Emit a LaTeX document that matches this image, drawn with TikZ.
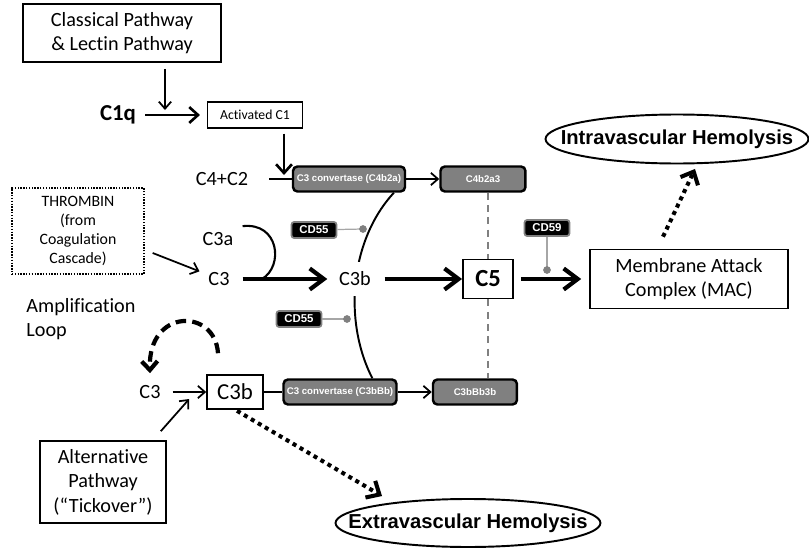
\documentclass[tikz,border=0pt]{standalone}
\usepackage{fontspec}
\setmainfont{Carlito}[Ligatures=NoCommon]
\newfontfamily\arialfont{Liberation Sans}
\usetikzlibrary{shapes.geometric, arrows.meta, positioning}
\definecolor{midgray}{RGB}{128,128,128}
\tikzstyle{pathbox} = [rectangle, draw=black, line width=0.9pt, align=center, font=\fontsize{11.5}{14}\selectfont]
\tikzstyle{smallbox} = [rectangle, draw=black, line width=0.6pt, minimum width=1.9cm, minimum height=0.52cm, font=\fontsize{7.8}{9}\selectfont]
\tikzstyle{enzyme} = [rectangle, rounded corners=2.5pt, draw=black, line width=1.4pt, fill=midgray, text=white, minimum height=0.5cm, inner sep=1pt, font=\arialfont\bfseries\fontsize{5.5}{6}\selectfont]
\tikzstyle{inhibitor} = [rectangle, rounded corners=1.5pt, draw=gray, line width=1pt, fill=black, text=white, minimum width=0.9cm, minimum height=0.32cm, inner sep=0pt, font=\arialfont\bfseries\fontsize{6.5}{7}\selectfont]
\tikzstyle{outcome} = [ellipse, draw=black, line width=1.1pt, inner sep=0pt, minimum width=5.26cm, minimum height=0.98cm, font=\arialfont\bfseries\fontsize{11.5}{14}\selectfont]
\tikzstyle{molecule} = [font=\fontsize{11.5}{14}\selectfont]
\tikzstyle{thinarrow} = [line width=1pt, -{Straight Barb[length=4pt,width=7pt]}]
\tikzstyle{medarrow} = [line width=1.5pt, -{Straight Barb[length=5pt,width=9pt]}]
\tikzstyle{bigarrow} = [line width=2.4pt, -{Straight Barb[length=8pt,width=12pt]}]
\tikzstyle{dotarrow} = [line width=2.3pt, dash pattern=on 2.3pt off 2.3pt, -{Straight Barb[length=6pt,width=11pt]}]
\tikzstyle{loopline} = [line width=2.4pt, dash pattern=on 6pt off 3.5pt, -{Straight Barb[length=5pt,width=9pt]}]
\tikzstyle{blocker} = [gray!70, line width=0.7pt]
\tikzstyle{thruline} = [gray, line width=0.8pt, dash pattern=on 4pt off 3pt]

\begin{document}
\begin{tikzpicture}[x=0.02cm, y=-0.02cm, node distance=2cm]
\useasboundingbox (0,0) rectangle (809,551);

% Nodos de entrada
\node (classical) [pathbox, minimum width=3.96cm, minimum height=1.16cm] at (122,33) {Classical Pathway\\\& Lectin Pathway};
\node (c1q) [molecule, font=\bfseries\fontsize{13}{15}\selectfont] at (118,115) {C1q};
\node (actc1) [smallbox] at (255,115) {Activated C1};
\coordinate (hitc1) at (165,115);
\node (thrombin) [pathbox, dash pattern=on 0.8pt off 0.8pt, line width=0.8pt, minimum width=2.64cm, minimum height=1.72cm, font=\fontsize{9}{10.8}\selectfont] at (78,231) {THROMBIN\\(from\\Coagulation\\Cascade)};
\node (amp) [molecule, align=left] at (81,319) {Amplification\\Loop};
\node (alt) [pathbox, minimum width=2.52cm, minimum height=1.64cm] at (103,482) {Alternative\\Pathway\\(“Tickover”)};

% Fila superior
\node (c4c2) [molecule] at (222,179) {C4+C2};
\node (conv1) [enzyme, minimum width=2.24cm] at (349,179) {C3 convertase (C4b2a)};
\node (c4b2a3) [enzyme, minimum width=1.7cm, right of=conv1, xshift=0.68cm] {C4b2a3};
\coordinate (hitc4) at (284,179);

% Fila inferior
\node (c3low) [molecule] at (150,392) {C3};
\node (c3bbox) [pathbox, minimum width=1.12cm, minimum height=0.68cm, font=\fontsize{13}{15}\selectfont] at (235,392) {C3b};
\node (conv2) [enzyme, minimum width=2.26cm] at (340,392) {C3 convertase (C3bBb)};
\node (c3bbb3b) [enzyme, minimum width=1.68cm, right of=conv2, xshift=0.7cm] {C3bBb3b};

% Arco entre convertasas (detras de C3b)
\draw [line width=1.1pt] (conv1.-17) .. controls (350,240) and (343,321) .. (conv2.23);

% Fila central
\node (c3a) [molecule] at (218,239) {C3a};
\node (c3) [molecule] at (219,279) {C3};
\node (c3b) [molecule, fill=white, minimum height=0.7cm, inner xsep=2pt] at (355,279) {C3b};
\node (c5) [pathbox, line width=1.1pt, fill=white, minimum width=1cm, minimum height=0.78cm, font=\bfseries\fontsize{14}{16}\selectfont] at (488,279) {C5};
\node (mac) [pathbox, minimum width=3.96cm, minimum height=1.18cm] at (689,279) {Membrane Attack\\Complex (MAC)};
\coordinate (hk) at (262,279);

% Inhibidores
\node (cd55a) [inhibitor] at (314,230) {CD55};
\node (cd55b) [inhibitor] at (299,319) {CD55};
\node (cd59) [inhibitor] at (547,228) {CD59};
\coordinate (blk1) at (363,229);
\coordinate (blk2) at (347,319);
\coordinate (blk3) at (547,270);

% Resultados
\node (intra) [outcome] at (677,139) {\makebox[0pt]{Intravascular Hemolysis}};
\node (extra) [outcome, minimum width=5.3cm, minimum height=0.96cm] at (468,523) {\makebox[0pt]{Extravascular Hemolysis}};

% Flechas
\draw [thinarrow, shorten <=0.12cm, shorten >=0.1cm] (classical.south -| hitc1) -- (hitc1);
\draw [medarrow, shorten <=0.06cm, shorten >=0.14cm] (c1q) -- (actc1);
\draw [medarrow, shorten <=0.1cm, shorten >=0.08cm] (actc1.south -| hitc4) -- (hitc4);
\draw [line width=1pt, shorten <=0.3cm] (c4c2) -- (conv1);
\draw [thinarrow] (conv1) -- (c4b2a3);
\draw [thruline] (c4b2a3.south -| c5) -- (c5);
\draw [thruline] (c5) -- (c3bbb3b.north -| c5);
\draw [thinarrow, shorten >=0.06cm] ([xshift=0.16cm, yshift=-0.44cm]thrombin.east) -- (c3);
\draw [line width=1.2pt] (hk) .. controls (284,266) and (279,222) .. ([xshift=0.06cm]c3a.north east);
\draw [bigarrow, shorten <=0.14cm, shorten >=0.16cm] (c3) -- (c3b);
\draw [bigarrow, shorten <=0.2cm] (c3b) -- (c5);
\draw [bigarrow, shorten <=0.14cm, shorten >=0.16cm] (c5) -- (mac);
\draw [blocker] (cd55a) -- (blk1);
\draw [blocker] (cd55b) -- (blk2);
\draw [blocker] (cd59) -- (blk3);
\fill [gray] (blk1) circle (2.2pt);
\fill [gray] (blk2) circle (2.2pt);
\fill [gray] (blk3) circle (2.2pt);
\draw [thinarrow, shorten <=0.12cm] (c3low) -- (c3bbox);
\draw [thinarrow] ([xshift=-0.12cm, yshift=0.18cm]alt.north east) -- ([xshift=-0.34cm, yshift=-0.14cm]c3bbox.west);
\draw [line width=1pt] (c3bbox) -- (conv2);
\draw [thinarrow] (conv2) -- (c3bbb3b);
\draw [loopline] ([xshift=-0.34cm, yshift=0.42cm]c3bbox.north) .. controls (215,308) and (148,308) .. ([yshift=0.12cm]c3low.north);
\draw [dotarrow] ([xshift=-0.52cm, yshift=0.24cm]mac.north) -- ([xshift=0.36cm, yshift=-0.09cm]intra.south);
\draw [dotarrow] ([xshift=0.04cm, yshift=-0.02cm]c3bbox.south) -- ([xshift=-1.72cm, yshift=0.04cm]extra.north);

\end{tikzpicture}
\end{document}
